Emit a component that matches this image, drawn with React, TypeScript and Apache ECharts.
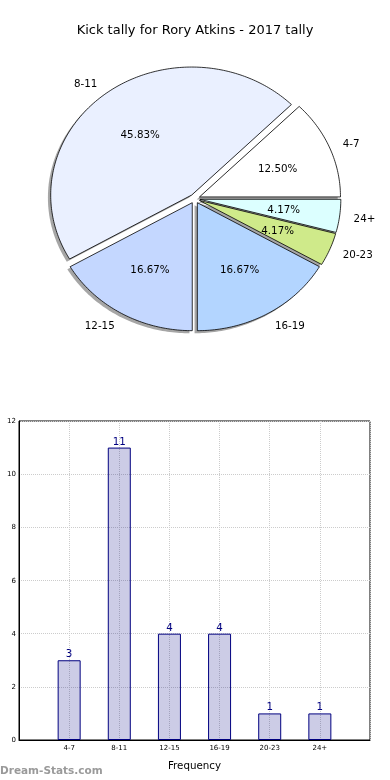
import React, { useEffect, useRef } from 'react';
import * as echarts from 'echarts';

const categories = ['4-7', '8-11', '12-15', '16-19', '20-23', '24+'];
const kickCounts = [3, 11, 4, 4, 1, 1];
const sliceColors = ['#ffffff', '#eaf0ff', '#c4d7ff', '#b3d5ff', '#cfea8a', '#dcffff'];
const chartTitle = 'Kick tally for Rory Atkins - 2017 tally';
const xAxisTitle = 'Frequency';
const yAxisTitle = 'Distribution';
const watermark = 'Dream-Stats.com';
const yTickStep = 2;
const yMax = 12;

const FONT = 'DejaVu Sans';
const PIE = { cx: 194.8, cy: 198.7, rx: 141, ry: 128, explode: 0.036, pctDist: 0.6, labelDist: 1.1 };

export default function App() {
  const ref = useRef<HTMLDivElement>(null);
  useEffect(() => {
    const chart = echarts.init(ref.current!, null, { renderer: 'svg' });
    const total = kickCounts.reduce((a, b) => a + b, 0);
    const starts: number[] = [];
    let acc = 0;
    kickCounts.forEach((v) => {
      starts.push(acc);
      acc += v;
    });

    const renderSlice = (params: any, api: any) => {
      const i = params.dataIndex;
      const value = api.value(0);
      const t1 = (starts[i] / total) * 2 * Math.PI;
      const t2 = t1 + (value / total) * 2 * Math.PI;
      const m = (t1 + t2) / 2;
      const { cx, cy, rx, ry, explode } = PIE;
      const ax = cx + explode * rx * Math.cos(m);
      const ay = cy - explode * ry * Math.sin(m);
      const pts: number[][] = [[ax, ay]];
      const steps = Math.max(2, Math.ceil((t2 - t1) / (Math.PI / 180)));
      for (let k = 0; k <= steps; k++) {
        const t = t1 + ((t2 - t1) * k) / steps;
        pts.push([ax + rx * Math.cos(t), ay - ry * Math.sin(t)]);
      }
      const shadowPts = pts.map(([x, y]) => [x - 2.8, y + 2.6]);
      const px = ax + PIE.pctDist * rx * Math.cos(m);
      const py = ay - PIE.pctDist * ry * Math.sin(m);
      const lx = ax + PIE.labelDist * rx * Math.cos(m);
      const ly = ay - PIE.labelDist * ry * Math.sin(m);
      const pct = ((value / total) * 100).toFixed(2) + '%';
      const al = Math.cos(m) > 0 ? 'left' : 'right';
      return {
        type: 'group',
        children: [
          { type: 'polygon', z2: 0, silent: true, shape: { points: shadowPts }, style: { fill: 'rgba(77,77,77,0.5)' } },
          { type: 'polygon', z2: 10, shape: { points: pts }, style: { fill: sliceColors[i], stroke: '#000', lineWidth: 0.8 } },
          {
            type: 'text', z2: 20,
            style: { text: pct, x: px, y: py, align: 'center', textAlign: 'center', verticalAlign: 'middle', textVerticalAlign: 'middle', fontSize: 10.3, fontFamily: FONT, fill: '#000' },
          },
          {
            type: 'text', z2: 20,
            style: { text: categories[i], x: lx, y: ly, align: al, textAlign: al, verticalAlign: 'middle', textVerticalAlign: 'middle', fontSize: 10.3, fontFamily: FONT, fill: '#000' },
          },
        ],
      };
    };

    chart.setOption({
      animation: false,
      textStyle: { fontFamily: FONT },
      title: {
        text: chartTitle,
        left: 'center',
        top: 18,
        textStyle: { fontSize: 13, fontWeight: 'normal', color: '#000', fontFamily: FONT },
      },
      grid: { left: 19, top: 421, width: 351, height: 319, show: true, borderColor: '#000', borderWidth: 1, backgroundColor: 'transparent' },
      xAxis: {
        type: 'category',
        data: ['', ...categories, ''],
        boundaryGap: false,
        axisLine: { lineStyle: { color: '#000' } },
        axisTick: { show: false },
        axisLabel: { fontSize: 7, color: '#000', margin: 4, interval: 0, fontFamily: FONT },
        splitLine: { show: true, lineStyle: { type: 'dotted', color: '#cccccc' } },
        name: xAxisTitle,
        nameLocation: 'middle',
        nameGap: 20,
        nameTextStyle: { fontSize: 10.3, color: '#000', fontFamily: FONT },
      },
      yAxis: {
        type: 'value',
        min: 0,
        max: yMax,
        interval: yTickStep,
        axisLine: { show: true, lineStyle: { color: '#000' } },
        axisTick: { show: false },
        axisLabel: { fontSize: 7, color: '#000', margin: 3, fontFamily: FONT },
        splitLine: { show: true, lineStyle: { type: 'dotted', color: '#cccccc' } },
      },
      series: [
        {
          type: 'custom',
          coordinateSystem: 'none',
          renderItem: renderSlice,
          data: kickCounts.map((v, i) => ({ name: categories[i], value: v })),
        },
        {
          type: 'bar',
          data: ['-', ...kickCounts, '-'],
          barWidth: 23,
          itemStyle: { color: 'rgba(0,0,128,0.2)', borderColor: '#000080', borderWidth: 1 },
          label: { show: true, position: 'top', distance: 2, color: '#000080', fontSize: 10.3, fontFamily: FONT },
        },
      ],
      graphic: [
        {
          type: 'text',
          x: -4,
          y: 580,
          rotation: Math.PI / 2,
          style: { text: yAxisTitle, align: 'center', verticalAlign: 'middle', fontSize: 10.3, fontFamily: FONT, fill: '#000' },
        },
        {
          type: 'text',
          x: 0,
          y: 770,
          style: { text: watermark, align: 'left', verticalAlign: 'middle', fontSize: 10.5, fontWeight: 'bold', fontFamily: FONT, fill: '#9a9a9a' },
        },
      ],
    });
    return () => chart.dispose();
  }, []);
  return <div ref={ref} style={{ position: 'fixed', left: 0, top: 0, width: 390, height: 780 }} />;
}
